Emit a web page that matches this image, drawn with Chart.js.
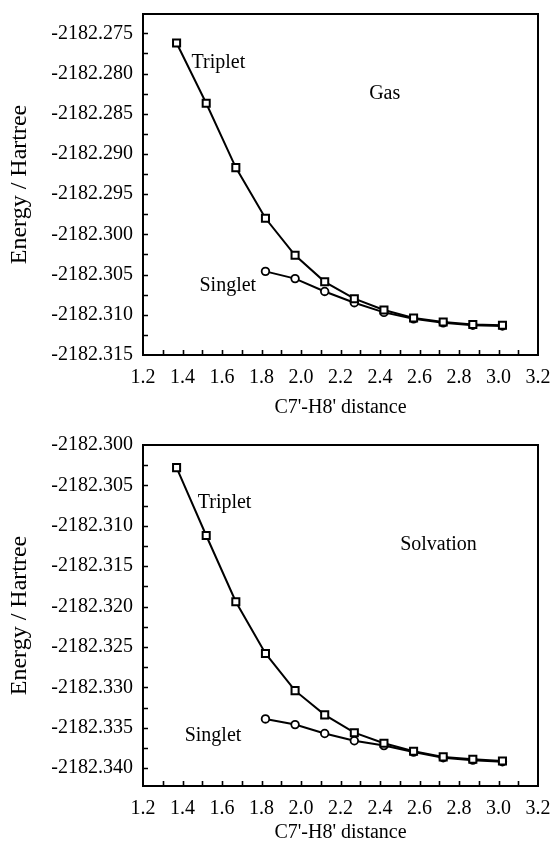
<!DOCTYPE html>
<html>
<head>
<meta charset="utf-8">
<script src="https://cdn.jsdelivr.net/npm/chart.js@4.4.0/dist/chart.umd.min.js"></script>
<style>
    html, body { margin: 0; padding: 0; background: #fff; }
    .box { position: absolute; left: 0; width: 554px; }
</style>
</head>
<body>
<div class="box" style="top:0;height:421px"><canvas id="gasChart"></canvas></div>
<div class="box" style="top:421px;height:422px"><canvas id="solvChart"></canvas></div>
<script>
// C7'-H8' distance
const distance = [1.37, 1.52, 1.67, 1.82, 1.97, 2.12, 2.27, 2.42, 2.57, 2.72, 2.87, 3.02];

// energies (Hartree), gas phase
const gasTriplet = [-2182.2762, -2182.2837, -2182.2917, -2182.2980, -2182.3026, -2182.3059,
    -2182.3080, -2182.3094, -2182.3104, -2182.3109, -2182.3112, -2182.3113];
const gasSinglet = [null, null, null, -2182.3046, -2182.3055, -2182.3071,
    -2182.3085, -2182.3097, -2182.3105, -2182.3110, -2182.3113, -2182.3114];

// energies (Hartree), solvation
const solvTriplet = [-2182.3028, -2182.3112, -2182.3194, -2182.3258, -2182.3304, -2182.3334,
    -2182.3356, -2182.3369, -2182.3379, -2182.3386, -2182.3389, -2182.3391];
const solvSinglet = [null, null, null, -2182.3339, -2182.3346, -2182.3357,
    -2182.3366, -2182.3372, -2182.3380, -2182.3387, -2182.3390, -2182.3392];

Chart.defaults.font.family = '"Liberation Serif", "Times New Roman", serif';
Chart.defaults.font.size = 20;
Chart.defaults.color = '#000';

function toPoints(ys) {
    return distance.map((d, i) => ({x: d, y: ys[i]}));
}

// box round the plot, inward ticks and the text notes
const framePlugin = {
    id: 'frame',
    afterDraw(chart, args, opts) {
        const ctx = chart.ctx
        const a = chart.chartArea
        const x = chart.scales.x, y = chart.scales.y
        ctx.save()
        ctx.strokeStyle = '#000'
        ctx.lineWidth = 1.6
        ctx.beginPath()
        x.ticks.forEach(t => {
            const px = Math.round(x.getPixelForValue(t.value)) + 0.5
            if (px > a.left + 2 && px < a.right - 2) {
                ctx.moveTo(px, a.bottom)
                ctx.lineTo(px, a.bottom - 5)
            }
        })
        y.ticks.forEach(t => {
            const py = Math.round(y.getPixelForValue(t.value)) + 0.5
            if (py > a.top + 2 && py < a.bottom - 2) {
                ctx.moveTo(a.left, py)
                ctx.lineTo(a.left + 5, py)
            }
        })
        ctx.stroke()
        ctx.lineWidth = 2
        ctx.strokeRect(a.left, a.top, a.right - a.left, a.bottom - a.top)

        ctx.font = '20px "Liberation Serif"'
        ctx.fillStyle = '#000'
        ctx.textAlign = 'left'
        ctx.textBaseline = 'middle'
        opts.notes.forEach(n => {
            ctx.fillText(n.text, x.getPixelForValue(n.x), y.getPixelForValue(n.y))
        })
        ctx.restore()
    }
};

function noPad(s) {
    s.paddingLeft = 0
    s.paddingRight = 0
    s.paddingTop = 0
    s.paddingBottom = 0
}

function energyChart(id, triplet, singlet, yMin, yMax, notes, padTop, xHeight, titlePad) {
    const data = {
        datasets: [
            {
                label: 'Triplet',
                data: toPoints(triplet),
                borderColor: '#000',
                borderWidth: 2,
                backgroundColor: '#fff',
                pointStyle: 'rect',
                pointRadius: 5,
                pointBorderWidth: 2,
                tension: 0
            },
            {
                label: 'Singlet',
                data: toPoints(singlet),
                borderColor: '#000',
                borderWidth: 2,
                backgroundColor: '#fff',
                pointStyle: 'circle',
                pointRadius: 3.8,
                pointBorderWidth: 1.8,
                tension: 0
            }
        ]
    };

    const config = {
        type: 'line',
        data: data,
        options: {
            responsive: true,
            maintainAspectRatio: false,
            animation: false,
            layout: {padding: {top: padTop, right: 16, left: 0, bottom: 0}},
            plugins: {
                legend: {display: false},
                tooltip: {enabled: false},
                frame: {notes: notes}
            },
            scales: {
                x: {
                    type: 'linear',
                    min: 1.2,
                    max: 3.2,
                    grid: {display: false, drawTicks: false},
                    border: {display: false},
                    ticks: {
                        stepSize: 0.1,
                        autoSkip: false,
                        maxRotation: 0,
                        minRotation: 0,
                        padding: 11,
                        callback: v => Math.round(v * 10) % 2 === 0 ? v.toFixed(1) : ''
                    },
                    title: {
                        display: true,
                        text: "C7'-H8' distance",
                        font: {size: 20, lineHeight: 1},
                        padding: {top: 0, bottom: titlePad}
                    },
                    afterFit: s => { s.height = xHeight; noPad(s) }
                },
                y: {
                    type: 'linear',
                    min: yMin,
                    max: yMax,
                    grid: {display: false, drawTicks: false},
                    border: {display: false},
                    ticks: {
                        stepSize: 0.0025,
                        includeBounds: false,
                        autoSkip: false,
                        padding: 10,
                        callback: v => {
                            const k = v / 0.005
                            return Math.abs(k - Math.round(k)) < 1e-4 ? v.toFixed(3) : ''
                        }
                    },
                    title: {
                        display: true,
                        text: 'Energy / Hartree',
                        font: {size: 24, lineHeight: 1},
                        padding: {top: 8, bottom: 0}
                    },
                    afterFit: s => { s.width = 143; noPad(s) }
                }
            }
        },
        plugins: [framePlugin]
    };

    let ctx = document.getElementById(id).getContext("2d")

    new Chart(ctx, config)
}

energyChart('gasChart', gasTriplet, gasSinglet, -2182.315, -2182.2726, [
    {text: 'Triplet', x: 1.446, y: -2182.2787},
    {text: 'Gas', x: 2.345, y: -2182.2825},
    {text: 'Singlet', x: 1.486, y: -2182.3064}
], 14, 66, 3);

energyChart('solvChart', solvTriplet, solvSinglet, -2182.3422, -2182.300, [
    {text: 'Triplet', x: 1.477, y: -2182.3072},
    {text: 'Solvation', x: 2.502, y: -2182.3124},
    {text: 'Singlet', x: 1.411, y: -2182.3360}
], 24, 57, 0);
</script>
</body>
</html>
